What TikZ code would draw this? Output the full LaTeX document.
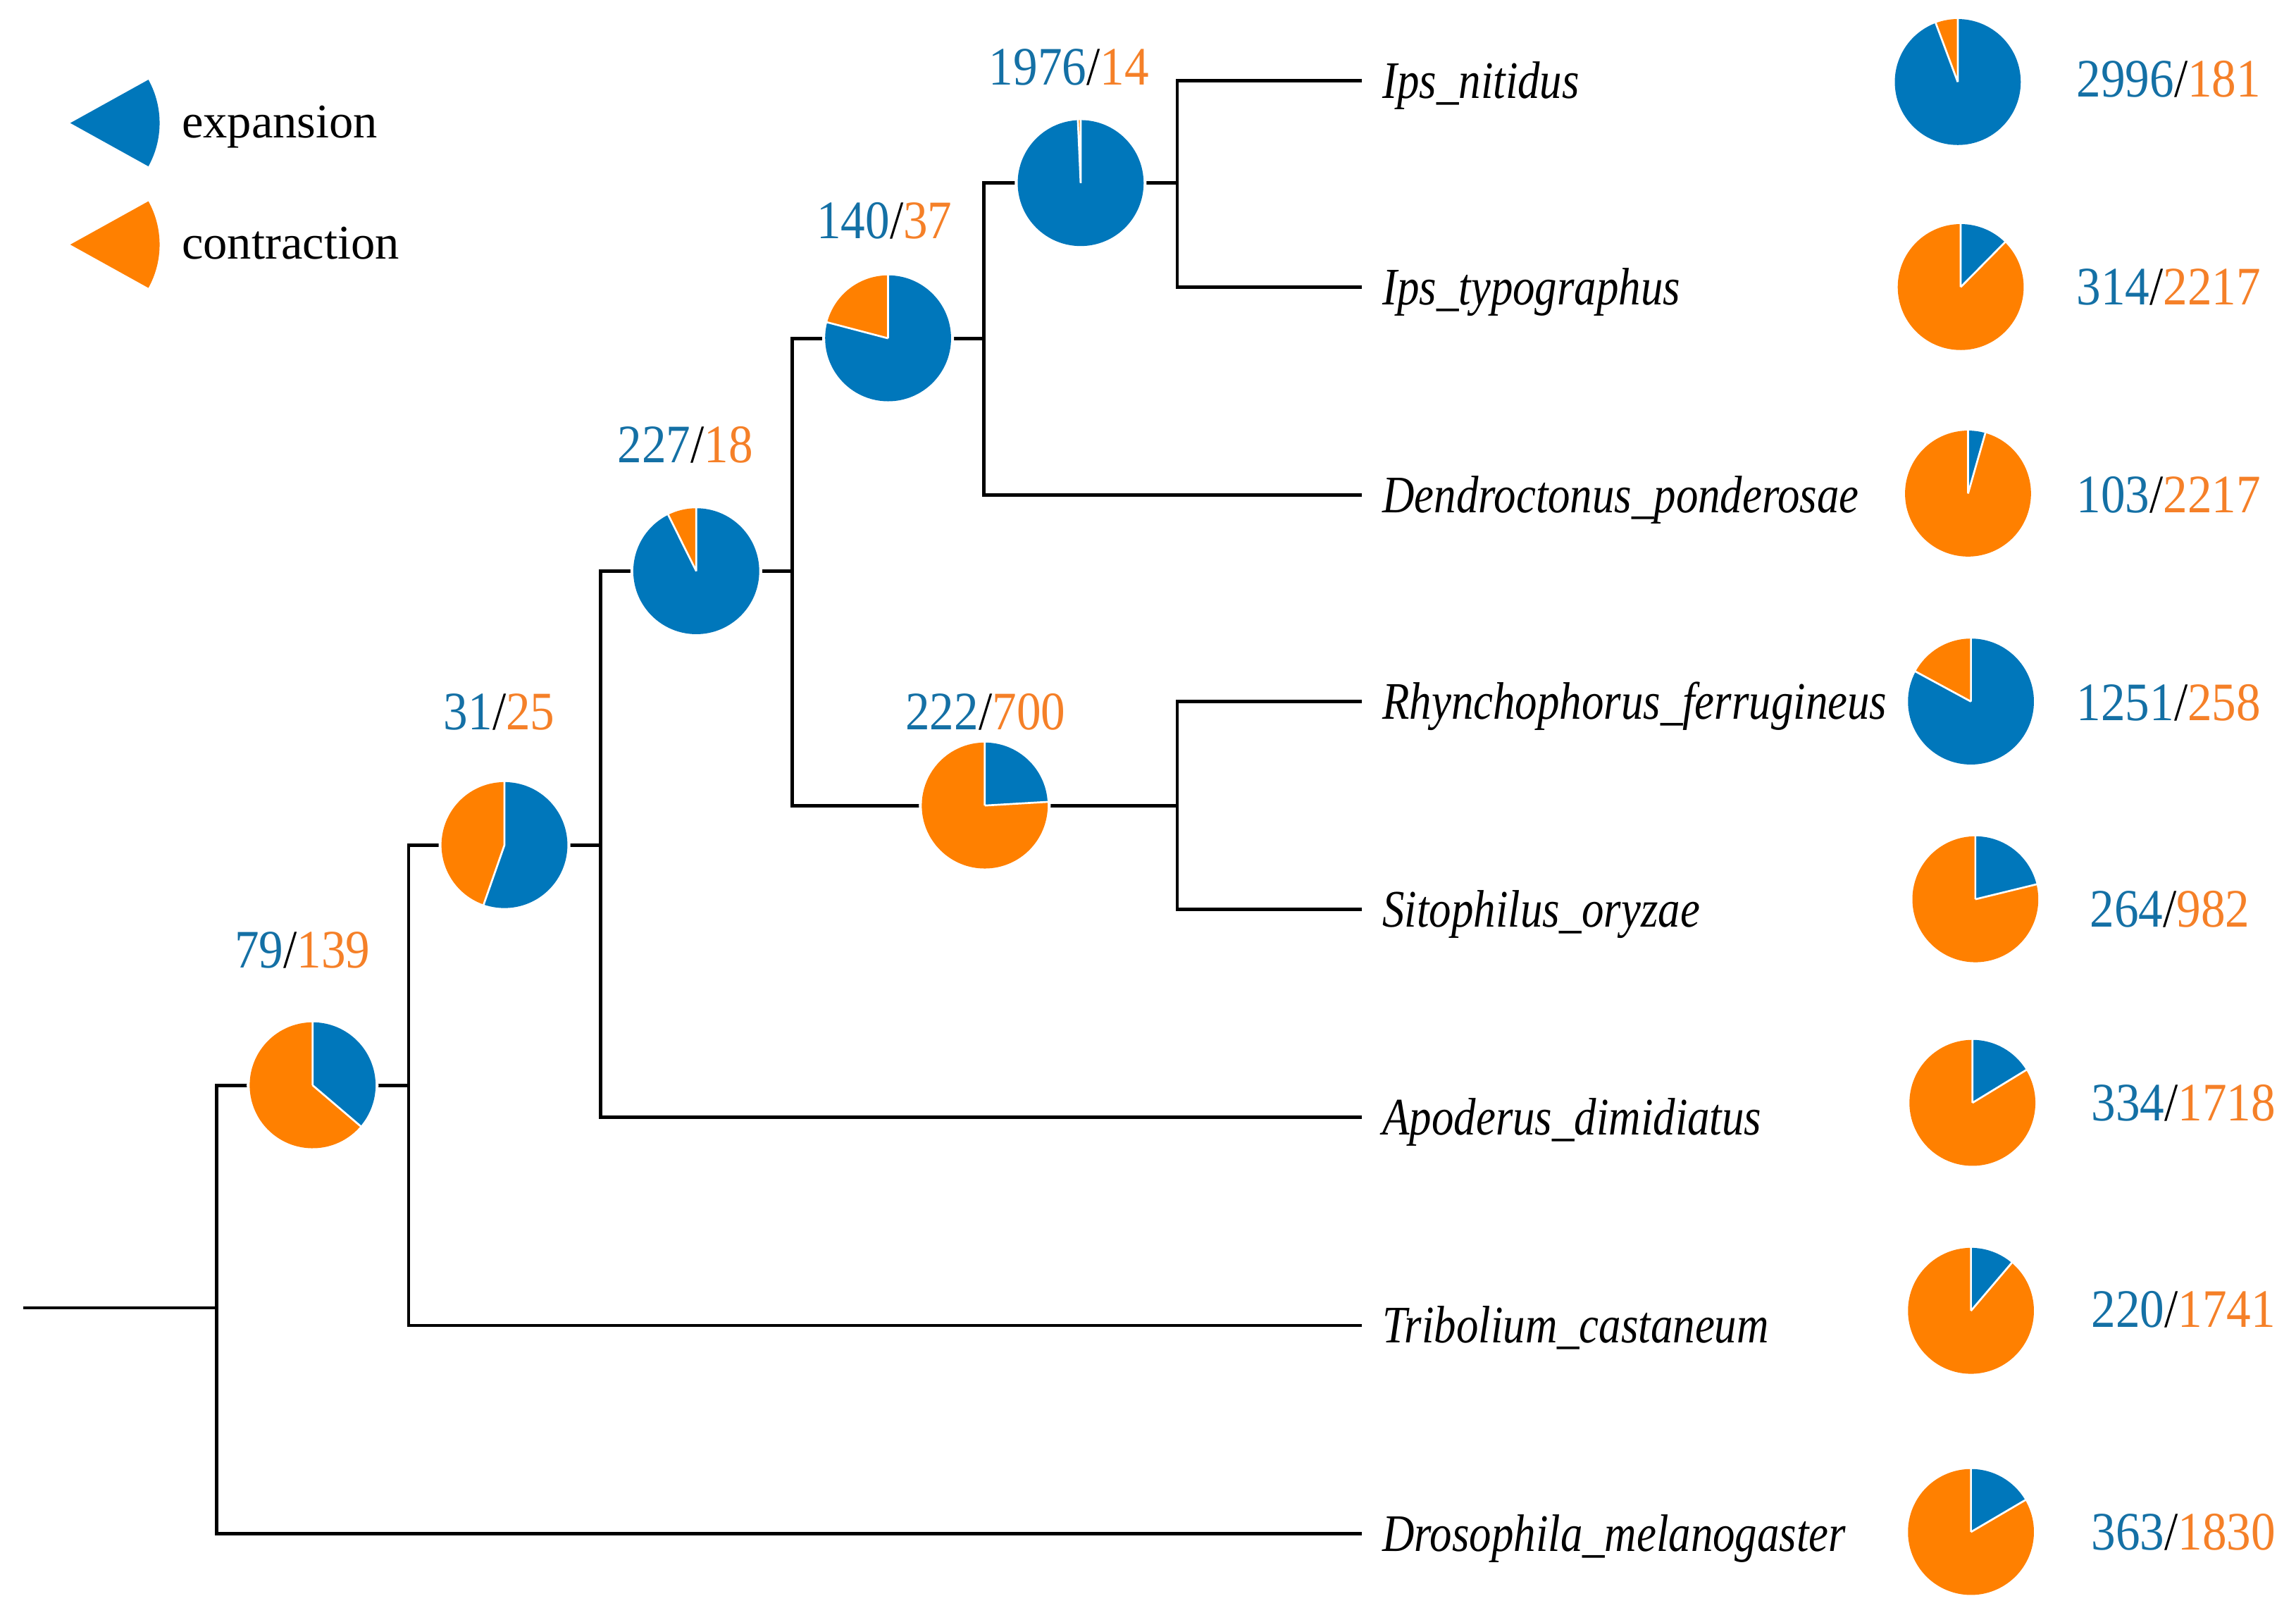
\documentclass[tikz,border=0pt]{standalone}
\usepackage{fontspec}
\setmainfont{Liberation Serif}
\newfontfamily\tipfont[FakeStretch=0.84]{Liberation Serif}
\newfontfamily\numfont[FakeStretch=0.9]{Liberation Serif}
\definecolor{pieblue}{RGB}{0,119,187}
\definecolor{pieorange}{RGB}{255,128,0}
\definecolor{tblue}{RGB}{20,112,165}
\definecolor{torange}{RGB}{245,128,40}
\newcommand{\drawpie}[3]{%
  \pgfmathsetmacro{\pieang}{360*(#2/(#2+#3))}%
  \fill[white] (#1) circle[radius=45];
  \fill[pieblue] (#1) -- ++(90:43) arc[start angle=90, end angle=90-\pieang, radius=43] -- cycle;
  \fill[pieorange] (#1) -- ++(90-\pieang:43) arc[start angle=90-\pieang, end angle=-270, radius=43] -- cycle;
  \draw[white, line width=1.3pt] (#1) -- ++(90:43.5) (#1) -- ++(90-\pieang:43.5);
}
\newcommand{\cnt}[2]{{\color{tblue}#1}/{\color{torange}#2}}
\begin{document}
\begin{tikzpicture}[x=1pt,y=1pt,
  branch/.style={line width=2.3pt, black, line join=miter},
  tiplab/.style={font=\tipfont\itshape\fontsize{36}{40}\selectfont, inner sep=0pt, anchor=base west},
  numlab/.style={font=\numfont\fontsize{37}{40}\selectfont, inner sep=0pt},
  leglab/.style={font=\fontsize{33}{36}\selectfont, inner sep=0pt, anchor=base west}]
\useasboundingbox (0,0) rectangle (1568,-1106);

% junctions
\coordinate (root0) at (16,-893);
\coordinate (J0) at (148,-893);
\coordinate (J1) at (279,-741);
\coordinate (J2) at (410,-577);
\coordinate (J3) at (541,-390);
\coordinate (J4) at (672,-231);
\coordinate (J5) at (804,-125);
\coordinate (J6) at (804,-550);
% pies on branches
\coordinate (pA) at (213.5,-741);
\coordinate (pB) at (344.5,-577);
\coordinate (pC) at (475.5,-390);
\coordinate (pD) at (606.5,-231);
\coordinate (pE) at (738,-125);
\coordinate (pF) at (672.5,-550);
% leaf ends
\coordinate (eIpsN) at (930,-55);
\coordinate (eIpsT) at (930,-196);
\coordinate (eDen) at (930,-338);
\coordinate (eRhy) at (930,-479);
\coordinate (eSit) at (930,-621);
\coordinate (eApo) at (930,-763);
\coordinate (eTri) at (930,-905);
\coordinate (eDro) at (930,-1047);

% branches
\draw[branch] (root0) -- (J0);
\draw[branch] (J0) |- (J1);
\draw[branch] (J0) |- (eDro);
\draw[branch] (J1) |- (J2);
\draw[branch] (J1) |- (eTri);
\draw[branch] (J2) |- (J3);
\draw[branch] (J2) |- (eApo);
\draw[branch] (J3) |- (J4);
\draw[branch] (J3) |- (J6);
\draw[branch] (J4) |- (J5);
\draw[branch] (J4) |- (eDen);
\draw[branch] (J5) |- (eIpsN);
\draw[branch] (J5) |- (eIpsT);
\draw[branch] (J6) |- (eRhy);
\draw[branch] (J6) |- (eSit);

% internal pies
\drawpie{pA}{79}{139}
\drawpie{pB}{31}{25}
\drawpie{pC}{227}{18}
\drawpie{pD}{140}{37}
\drawpie{pE}{1976}{14}
\drawpie{pF}{222}{700}

% internal labels
\node[numlab, anchor=base] (lA) at (206.5,-661) {\cnt{79}{139}};
\node[numlab, anchor=base] (lB) at (341,-498) {\cnt{31}{25}};
\node[numlab, anchor=base] (lC) at (468,-316) {\cnt{227}{18}};
\node[numlab, anchor=base] (lD) at (604,-163) {\cnt{140}{37}};
\node[numlab, anchor=base] (lE) at (730,-58) {\cnt{1976}{14}};
\node[numlab, anchor=base] (lF) at (673,-498) {\cnt{222}{700}};

% tip labels
\node[tiplab] (tIpsN) at ([xshift=14pt,yshift=-12pt]eIpsN) {Ips\_nitidus};
\node[tiplab] (tIpsT) at ([xshift=14pt,yshift=-12pt]eIpsT) {Ips\_typographus};
\node[tiplab] (tDen) at ([xshift=14pt,yshift=-12pt]eDen) {Dendroctonus\_ponderosae};
\node[tiplab] (tRhy) at ([xshift=14pt,yshift=-12pt]eRhy) {Rhynchophorus\_ferrugineus};
\node[tiplab] (tSit) at ([xshift=14pt,yshift=-12pt]eSit) {Sitophilus\_oryzae};
\node[tiplab] (tApo) at ([xshift=14pt,yshift=-12pt]eApo) {Apoderus\_dimidiatus};
\node[tiplab] (tTri) at ([xshift=14pt,yshift=-12pt]eTri) {Tribolium\_castaneum};
\node[tiplab] (tDro) at ([xshift=14pt,yshift=-12pt]eDro) {Drosophila\_melanogaster};

% right pies
\coordinate (r1) at (1337,-56);
\coordinate (r2) at (1339,-196);
\coordinate (r3) at (1344,-337);
\coordinate (r4) at (1346,-479);
\coordinate (r5) at (1349,-614);
\coordinate (r6) at (1347,-753);
\coordinate (r7) at (1346,-895);
\coordinate (r8) at (1346,-1046);
\drawpie{r1}{2996}{181}
\drawpie{r2}{314}{2217}
\drawpie{r3}{103}{2217}
\drawpie{r4}{1251}{258}
\drawpie{r5}{264}{982}
\drawpie{r6}{334}{1718}
\drawpie{r7}{220}{1741}
\drawpie{r8}{363}{1830}

% right labels
\node[numlab, anchor=base west] (n1) at (1418,-66) {\cnt{2996}{181}};
\node[numlab, anchor=base west] (n2) at (1418,-208) {\cnt{314}{2217}};
\node[numlab, anchor=base west] (n3) at (1418,-350) {\cnt{103}{2217}};
\node[numlab, anchor=base west] (n4) at (1418,-492) {\cnt{1251}{258}};
\node[numlab, anchor=base west] (n5) at (1427,-633) {\cnt{264}{982}};
\node[numlab, anchor=base west] (n6) at (1428,-765) {\cnt{334}{1718}};
\node[numlab, anchor=base west] (n7) at (1428,-906) {\cnt{220}{1741}};
\node[numlab, anchor=base west] (n8) at (1428,-1058) {\cnt{363}{1830}};

% legend
\coordinate (gB) at (48,-84);
\coordinate (gO) at (48,-167);
\fill[pieblue] (gB) -- ++(29:61) arc[start angle=29, end angle=-29, radius=61] -- cycle;
\fill[pieorange] (gO) -- ++(29:61) arc[start angle=29, end angle=-29, radius=61] -- cycle;
\node[leglab] (lgB) at (124,-94) {expansion};
\node[leglab] (lgO) at (124,-177) {contraction};
\end{tikzpicture}
\end{document}
